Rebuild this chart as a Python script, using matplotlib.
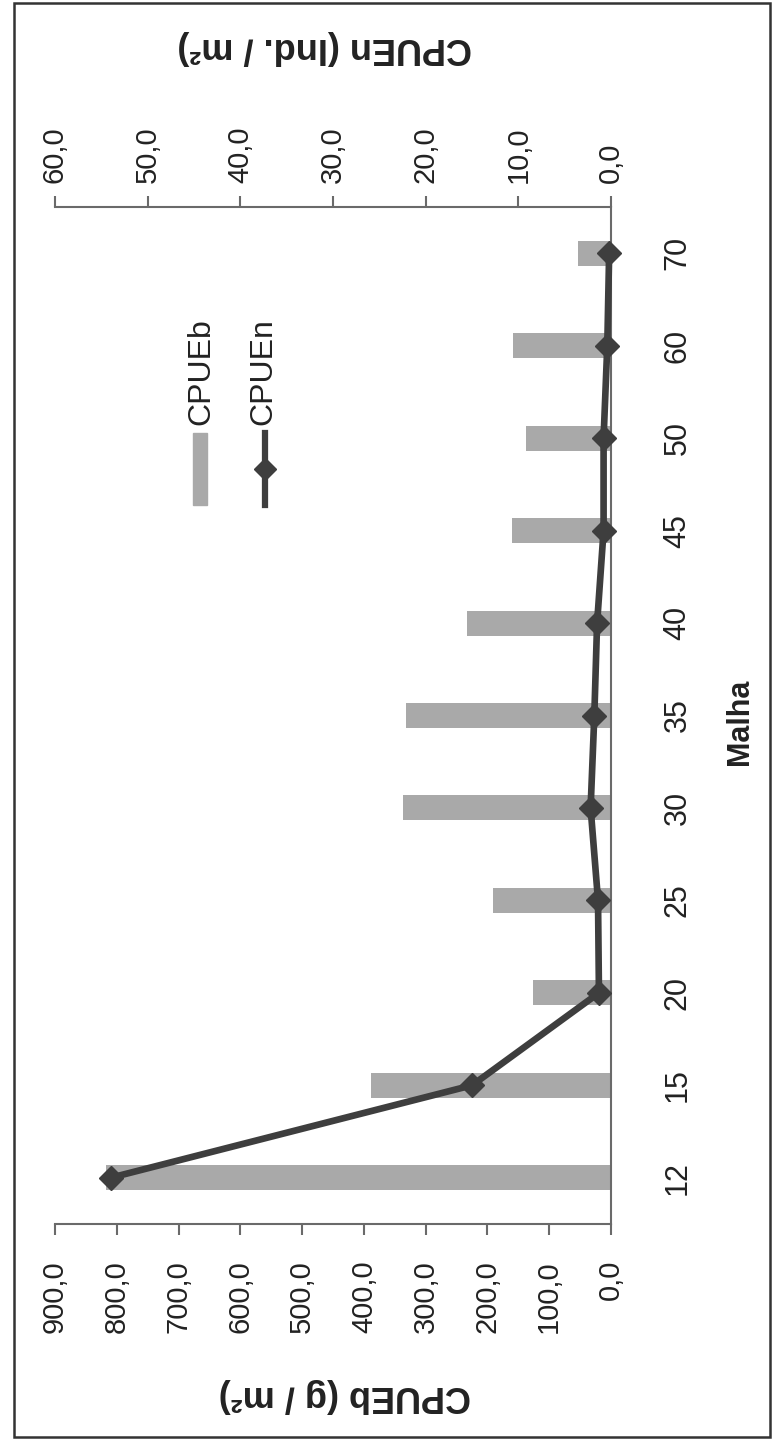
import matplotlib
matplotlib.use("Agg")
import matplotlib.pyplot as plt
from matplotlib.patches import Rectangle
from matplotlib.lines import Line2D

# Mesh sizes (Malha) and catch-per-unit-effort series
malha = ["12", "15", "20", "25", "30", "35", "40", "45", "50", "60", "70"]
cpue_b = [818, 389, 126, 191, 337, 332, 233, 160, 137, 159, 53]      # g / m²
cpue_n = [54.0, 15.0, 1.3, 1.4, 2.2, 1.8, 1.5, 0.8, 0.8, 0.4, 0.2]    # Ind. / m²
ticks_b = [0, 100, 200, 300, 400, 500, 600, 700, 800, 900]
ticks_n = [0, 10, 20, 30, 40, 50, 60]

W, H = 782, 1443
plt.rcParams["font.family"] = ["Liberation Sans", "DejaVu Sans"]
fig = plt.figure(figsize=(W / 100, H / 100), dpi=100)
fig.patch.set_facecolor("white")

def fx(px):
    return px / W

def fy(py):
    return 1 - py / H

bar_color = "#a9a9a9"
line_color = "#3e3e3e"
axis_color = "#6a6a6a"
text_color = "#222222"

ax = fig.add_axes([fx(55), fy(1224), fx(611) - fx(55), fy(207) - fy(1224)])
pos = list(range(len(malha)))

ax.barh(pos, cpue_b, height=0.27, color=bar_color, zorder=2)
ax.set_xlim(900, 0)
ax.set_ylim(-0.5, len(malha) - 0.5)

for s in ["left", "top"]:
    ax.spines[s].set_visible(False)
for s in ["bottom", "right"]:
    ax.spines[s].set_color(axis_color)
    ax.spines[s].set_linewidth(1.5)

ax.set_xticks(ticks_b)
ax.set_xticklabels([f"{v:.1f}".replace(".", ",") for v in ticks_b],
                   rotation=90, fontsize=21, color=text_color)
ax.tick_params(axis="x", direction="out", length=8, width=1.5,
               color=axis_color, pad=18)

ax.yaxis.tick_right()
ax.set_yticks(pos)
ax.set_yticklabels(malha, rotation=90, va="center", fontsize=22, color=text_color)
ax.tick_params(axis="y", length=0, pad=37)

ax2 = ax.twiny()
ax2.set_xlim(60, 0)
ax2.set_ylim(-0.5, len(malha) - 0.5)
for s in ["left", "bottom", "right"]:
    ax2.spines[s].set_visible(False)
ax2.spines["top"].set_color(axis_color)
ax2.spines["top"].set_linewidth(1.5)
ax2.set_xticks(ticks_n)
ax2.set_xticklabels([f"{v:.1f}".replace(".", ",") for v in ticks_n],
                    rotation=90, fontsize=21, color=text_color)
ax2.tick_params(axis="x", direction="out", length=8, width=1.5,
                color=axis_color, pad=9)
ax2.plot(cpue_n, pos, color=line_color, lw=4.8, marker="D", markersize=12.5,
         markerfacecolor=line_color, markeredgecolor=line_color, zorder=3,
         clip_on=False)

# Axis titles
fig.text(fx(345), fy(1395), "CPUEb (g / m²)", rotation=180, fontsize=26,
         fontweight="bold", ha="center", va="center", color=text_color)
fig.text(fx(325), fy(48), "CPUEn (Ind. / m²)", rotation=180, fontsize=26,
         fontweight="bold", ha="center", va="center", color=text_color)
fig.text(fx(740), fy(722), "Malha", rotation=90, fontsize=22,
         fontweight="bold", ha="center", va="center", color=text_color)

# Legend
fig.add_artist(Rectangle((fx(193), fy(505)), fx(207) - fx(193), fy(433) - fy(505),
                         transform=fig.transFigure, color=bar_color))
fig.add_artist(Line2D([fx(265), fx(265)], [fy(433), fy(505)],
                      transform=fig.transFigure, color=line_color, lw=4.5))
fig.add_artist(Line2D([fx(265)], [fy(469)], transform=fig.transFigure,
                      marker="D", markersize=11, color=line_color, lw=0))
fig.text(fx(201), fy(425), "CPUEb", rotation=90, fontsize=23,
         ha="center", va="bottom", color=text_color)
fig.text(fx(263), fy(425), "CPUEn", rotation=90, fontsize=23,
         ha="center", va="bottom", color=text_color)

# Outer frame
fig.add_artist(Rectangle((fx(14), fy(1437)), fx(770) - fx(14), fy(3) - fy(1437),
                         transform=fig.transFigure, fill=False,
                         edgecolor="#333333", lw=1.8))

fig.savefig("out.png", dpi=100, facecolor="white")
